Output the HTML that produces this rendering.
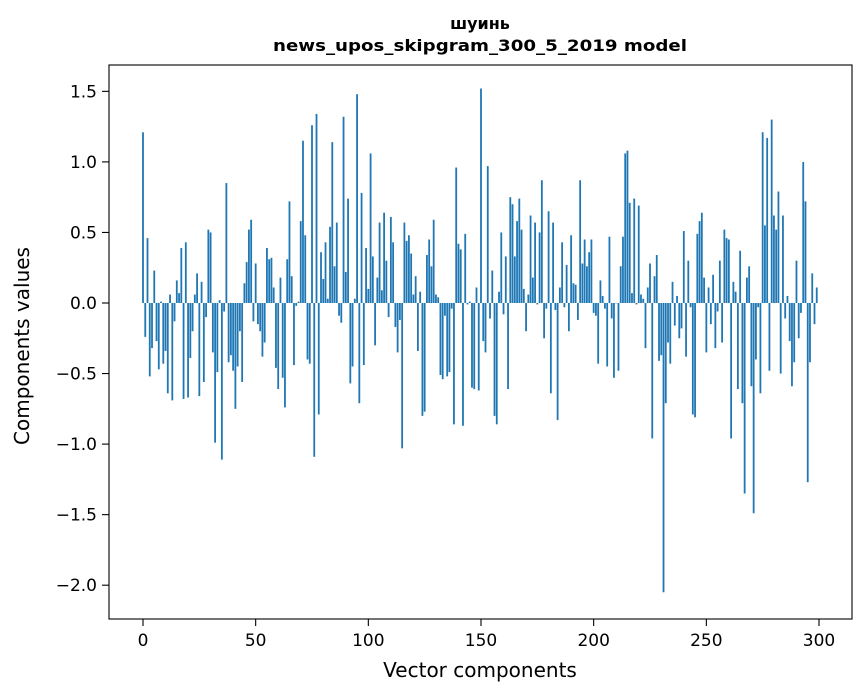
<!DOCTYPE html>
<html><head><meta charset="utf-8"><style>
body{margin:0;background:#fff;}
svg{display:block;font-family:"DejaVu Sans","Liberation Sans",sans-serif;}
</style></head><body>
<svg id="chart" width="867" height="696" viewBox="0 0 867 696" xmlns="http://www.w3.org/2000/svg">
<rect width="867" height="696" fill="#fff"/>
<text x="480" y="29" text-anchor="middle" font-size="16" font-weight="bold">шуинь</text>
<text x="480" y="51" text-anchor="middle" font-size="16" font-weight="bold" textLength="414" lengthAdjust="spacingAndGlyphs">news_upos_skipgram_300_5_2019 model</text>
<g id="bars"></g>
<g id="axes"></g>
<rect x="109" y="65" width="743" height="554" fill="none" stroke="#000" stroke-width="1.1"/>
<text x="480" y="677" text-anchor="middle" font-size="20">Vector components</text>
<text transform="translate(29,346) rotate(-90)" text-anchor="middle" font-size="20">Components values</text>
</svg>
<script>
const values = [
1.21,-0.24,0.46,-0.52,-0.32,0.23,-0.27,-0.47,0.01,-0.43,
-0.34,-0.64,0.06,-0.69,-0.13,0.16,0.07,0.39,-0.68,0.43,
-0.67,-0.39,-0.20,0.06,0.21,-0.66,0.15,-0.56,-0.10,0.52,
0.50,-0.35,-0.99,-0.49,0.02,-1.11,-0.06,0.85,-0.42,-0.37,
-0.48,-0.75,-0.45,-0.20,-0.56,0.14,0.29,0.52,0.59,-0.13,
0.28,-0.15,-0.20,-0.38,-0.28,0.39,0.31,0.32,0.11,-0.46,
-0.61,0.18,-0.53,-0.74,0.31,0.72,0.19,-0.44,-0.02,0.01,
0.58,1.15,0.48,-0.40,-0.43,1.26,-1.09,1.34,-0.79,0.36,
0.17,0.43,0.03,0.54,1.14,0.26,0.57,-0.09,-0.14,1.32,
0.22,0.74,-0.57,-0.45,0.03,1.48,-0.71,0.78,-0.44,0.39,
0.10,1.06,0.33,-0.30,0.18,0.57,0.09,0.64,0.30,-0.10,
0.61,0.43,-0.17,-0.35,-0.12,-1.03,0.57,0.44,0.48,0.35,
0.06,0.19,-0.34,0.08,-0.80,-0.77,0.34,0.45,0.26,0.59,
0.06,0.04,-0.51,-0.54,-0.09,-0.52,-0.49,-0.04,-0.86,0.96,
0.42,0.38,-0.87,0.49,-0.01,0.01,-0.60,-0.61,0.11,-0.62,
1.52,-0.27,-0.35,0.97,-0.11,0.23,-0.80,-0.86,0.08,0.50,
-0.08,0.33,-0.61,0.75,0.70,0.33,0.58,0.74,0.52,0.10,
-0.20,0.06,0.62,0.18,0.57,-0.01,0.50,0.87,-0.25,-0.04,
0.65,-0.64,0.57,-0.05,-0.83,0.11,0.43,-0.03,0.27,-0.20,
0.48,0.14,0.13,-0.12,0.87,0.28,0.45,0.26,0.36,0.45,
-0.07,-0.09,-0.43,0.16,0.05,-0.04,-0.45,0.47,-0.11,-0.53,
0.00,-0.48,0.26,0.47,1.06,1.08,0.71,0.07,0.74,-0.01,
0.69,0.06,0.03,-0.32,0.11,0.28,-0.96,0.19,0.34,-0.41,
-0.37,-2.05,-0.71,-0.28,-0.43,0.15,-0.16,0.05,-0.25,-0.18,
0.51,-0.38,0.30,-0.03,-0.79,-0.81,0.49,0.58,0.64,0.18,
-0.35,0.11,-0.15,0.20,-0.32,-0.06,0.30,-0.28,0.52,0.46,
0.45,-0.96,0.15,0.08,-0.61,0.37,-0.71,-1.35,0.18,0.26,
-0.59,-1.49,-0.40,-0.03,-0.64,1.21,0.55,1.17,-0.48,1.30,
0.62,0.52,0.79,-0.50,0.62,-0.11,0.05,-0.27,-0.59,-0.42,
0.30,-0.25,-0.07,1.00,0.72,-1.27,-0.42,0.21,-0.15,0.11
];
const xTicks = [0,50,100,150,200,250,300];
const yTicks = [1.5,1.0,0.5,0.0,-0.5,-1.0,-1.5,-2.0];

const NS = "http://www.w3.org/2000/svg";
function xs(v){ return 143 + v*(819-143)/300; }
function ys(v){ return 303 - v*141.1; }
const barsG = document.getElementById('bars');
values.forEach((v,i)=>{
  const r = document.createElementNS(NS,'rect');
  const w = 0.8*(819-143)/300;
  const y0 = ys(0), y1 = ys(v);
  r.setAttribute('x', xs(i)-w/2);
  r.setAttribute('y', Math.min(y0,y1));
  r.setAttribute('width', w);
  r.setAttribute('height', Math.max(Math.abs(y1-y0),0.3));
  r.setAttribute('fill', '#1f77b4');
  
  
  barsG.appendChild(r);
});
const axG = document.getElementById('axes');
xTicks.forEach(t=>{
  const l = document.createElementNS(NS,'line');
  l.setAttribute('x1', xs(t)); l.setAttribute('x2', xs(t));
  l.setAttribute('y1', 619); l.setAttribute('y2', 626);
  l.setAttribute('stroke', '#000'); l.setAttribute('stroke-width','1.1');
  
  
  axG.appendChild(l);
  const tx = document.createElementNS(NS,'text');
  tx.setAttribute('x', xs(t)); tx.setAttribute('y', 646);
  tx.setAttribute('text-anchor','middle'); tx.setAttribute('font-size','17');
  tx.textContent = String(t);
  
  
  axG.appendChild(tx);
});
yTicks.forEach(t=>{
  const l = document.createElementNS(NS,'line');
  l.setAttribute('x1', 102); l.setAttribute('x2', 109);
  l.setAttribute('y1', ys(t)); l.setAttribute('y2', ys(t));
  l.setAttribute('stroke', '#000'); l.setAttribute('stroke-width','1.1');
  
  
  axG.appendChild(l);
  const tx = document.createElementNS(NS,'text');
  tx.setAttribute('x', 97); tx.setAttribute('y', ys(t)+6);
  tx.setAttribute('text-anchor','end'); tx.setAttribute('font-size','17');
  tx.textContent = (t<0?'\u2212':'') + Math.abs(t).toFixed(1);
  
  
  axG.appendChild(tx);
});
</script>
</body></html>
